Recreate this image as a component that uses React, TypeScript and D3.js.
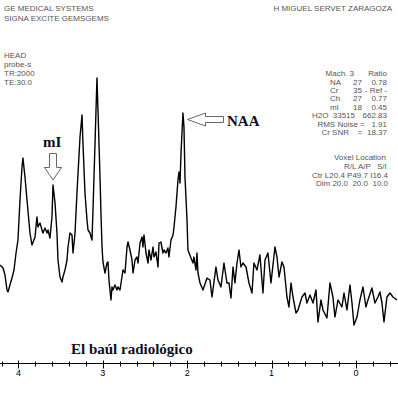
import React from 'react';
import * as d3 from 'd3';

// chemical shift (ppm) and signal intensity (arbitrary units)
const ppm = [
  4.218, 4.182, 4.159, 4.135, 4.123, 4.100, 4.076, 4.052, 4.028, 4.005, 3.981, 3.957, 3.946, 3.922, 3.898,
  3.863, 3.839, 3.803, 3.780, 3.768, 3.744, 3.720, 3.709, 3.685, 3.661, 3.649, 3.626, 3.602, 3.590, 3.566,
  3.543, 3.531, 3.507, 3.483, 3.472, 3.448, 3.424, 3.412, 3.389, 3.365, 3.353, 3.329, 3.306, 3.270, 3.246,
  3.235, 3.211, 3.187, 3.175, 3.152, 3.128, 3.116, 3.092, 3.069, 3.057, 3.033, 3.021, 3.009, 2.998, 2.974,
  2.950, 2.938, 2.927, 2.903, 2.891, 2.879, 2.856, 2.832, 2.820, 2.796, 2.773, 2.761, 2.737, 2.713, 2.701,
  2.678, 2.654, 2.642, 2.618, 2.595, 2.583, 2.559, 2.535, 2.524, 2.512, 2.488, 2.464, 2.453, 2.429, 2.405,
  2.393, 2.370, 2.346, 2.334, 2.311, 2.287, 2.275, 2.251, 2.228, 2.216, 2.192, 2.168, 2.156, 2.133, 2.109,
  2.097, 2.085, 2.073, 2.050, 2.038, 2.026, 2.002, 1.991, 1.955, 1.931, 1.920, 1.896, 1.884, 1.872, 1.848,
  1.813, 1.765, 1.730, 1.706, 1.659, 1.635, 1.600, 1.564, 1.529, 1.505, 1.481, 1.457, 1.434, 1.410, 1.386,
  1.363, 1.339, 1.303, 1.268, 1.232, 1.209, 1.173, 1.138, 1.102, 1.078, 1.043, 1.007, 0.960, 0.936, 0.912,
  0.877, 0.853, 0.818, 0.794, 0.770, 0.746, 0.711, 0.687, 0.640, 0.604, 0.581, 0.545, 0.509, 0.474, 0.450,
  0.415, 0.391, 0.344, 0.308, 0.273, 0.249, 0.213, 0.166, 0.142, 0.107, 0.071, 0.047, 0.024, -0.012, -0.047,
  -0.083, -0.118, -0.142, -0.189, -0.225, -0.260, -0.284, -0.308, -0.332, -0.367, -0.403, -0.438, -0.486,
];
const signal = [
  65, 62, 55, 40, 38, 45, 52, 60, 77, 90, 130, 163, 172, 153, 130,
  97, 85, 93, 113, 103, 107, 100, 97, 102, 97, 100, 92, 113, 145, 127,
  97, 70, 53, 48, 53, 60, 70, 83, 97, 95, 77, 97, 137, 193, 215,
  187, 137, 110, 100, 97, 90, 120, 187, 252, 220, 153, 115, 83, 68, 57,
  67, 68, 50, 30, 43, 40, 45, 40, 43, 40, 53, 60, 57, 83, 88,
  80, 70, 57, 70, 73, 67, 87, 93, 83, 95, 77, 67, 80, 70, 83,
  73, 78, 63, 87, 88, 77, 80, 77, 82, 73, 90, 95, 103, 123, 150,
  158, 147, 177, 217, 203, 153, 110, 80, 72, 67, 73, 60, 77, 57, 47,
  40, 52, 50, 33, 63, 50, 43, 67, 47, 47, 32, 63, 47, 67, 80,
  63, 67, 63, 47, 37, 67, 60, 75, 37, 70, 77, 47, 83, 73, 53,
  68, 63, 33, 23, 47, 33, 17, 20, 33, 37, 27, 35, 27, 40, 8,
  30, 20, 12, 47, 33, 13, 30, 23, 37, 20, 45, 27, 5, 13, 30,
  43, 23, 30, 42, 27, 33, 38, 27, 8, 33, 37, 33, 30,
];

const majorTicks = [4, 3, 2, 1, 0];
const minorTicks = d3.range(-4, 22).map(i => i / 5);

const headerLeft = ['GE MEDICAL SYSTEMS', 'SIGNA EXCITE GEMSGEMS'];
const headerRight = 'H MIGUEL SERVET ZARAGOZA';
const scanInfo = ['HEAD', 'probe-s', 'TR:2000', 'TE:30.0'];
const metabolites = ['NA', 'Cr', 'Ch', 'ml'];
const machValues = ['27', '35', '27', '18'];
const ratios = ['0.78', '- Ref -', '0.77', '0.45'];
const water = ['H2O', '33515', '662.83'];
const quality = ['RMS Noise =   1.91', 'Cr SNR    =  18.37'];
const voxelAxes = ['R/L', 'A/P', 'S/I'];
const voxelRows = ['Ctr L20.4 P49.7 I16.4', 'Dim 20.0  20.0  10.0'];

const W = 398;
const H = 400;
const small = { fontFamily: 'Liberation Sans, Arial, sans-serif', fontSize: 8, fill: '#555' };
const serifBold = { fontFamily: 'Liberation Serif, Times New Roman, serif', fontWeight: 700 };

export default function App() {
  const x = d3.scaleLinear().domain([4.218, -0.498]).range([0, W]);
  const y = d3.scaleLinear().domain([0, 260]).range([330, 70]);
  const points = ppm.map((p, i) => [p, signal[i]] as [number, number]);
  const line = d3.line<[number, number]>().x(d => x(d[0])).y(d => y(d[1]));
  const axisY = 363.5;

  // arrow shapes (mI points down, NAA points left)
  const down = 'M49.5,153.5 L56.5,153.5 L56.5,167.5 L61.5,167.5 L53,180 L44.5,167.5 L49.5,167.5 Z';
  const left = 'M187.5,119.5 L205.5,113 L205.5,116.5 L223.5,116.5 L223.5,122.5 L205.5,122.5 L205.5,126 Z';

  return (
    <svg width={W} height={H} style={{ position: 'absolute', left: 0, top: 0, background: '#fff' }}>
      <rect width={W} height={H} fill="#fff" />

      {headerLeft.map((t, i) => (
        <text key={t} x={4} y={11 + i * 9.5} {...small}>{t}</text>
      ))}
      <text x={392} y={11} textAnchor="end" {...small}>{headerRight}</text>
      {scanInfo.map((t, i) => (
        <text key={t} x={4} y={57.5 + i * 9.3} {...small}>{t}</text>
      ))}

      {/* metabolite table */}
      <g {...small}>
        <text x={354} y={76} textAnchor="end">Mach. 3</text>
        <text x={387} y={76} textAnchor="end">Ratio</text>
        {metabolites.map((m, i) => (
          <g key={m}>
            <text x={330} y={84.5 + i * 8.4}>{m}</text>
            <text x={362} y={84.5 + i * 8.4} textAnchor="end">{machValues[i]}</text>
            <text x={387} y={84.5 + i * 8.4} textAnchor="end">{ratios[i]}</text>
          </g>
        ))}
        <text x={312} y={118} >{water[0]}</text>
        <text x={355} y={118} textAnchor="end">{water[1]}</text>
        <text x={387} y={118} textAnchor="end">{water[2]}</text>
        {quality.map((t, i) => (
          <text key={t} x={387} y={126.5 + i * 8.5} textAnchor="end" style={{ whiteSpace: 'pre' }}>{t}</text>
        ))}
        <text x={386} y={160} textAnchor="end">Voxel Location</text>
        {voxelAxes.map((t, i) => (
          <text key={t} x={[344, 358, 377][i]} y={168.5}>{t}</text>
        ))}
        {voxelRows.map((t, i) => (
          <text key={t} x={388} y={177.5 + i * 8.5} textAnchor="end" style={{ whiteSpace: 'pre' }}>{t}</text>
        ))}
      </g>

      <path d={line(points) ?? ''} fill="none" stroke="#000" strokeWidth={1.4} strokeLinejoin="round" />

      {/* annotations */}
      <text x={43} y={147} fontSize={15} fill="#0d0d26" {...serifBold}>mI</text>
      <path d={down} fill="#fff" stroke="#666" strokeWidth={1} />
      <path d={left} fill="#fff" stroke="#666" strokeWidth={1} />
      <text x={227} y={126} fontSize={15} fill="#0d0d26" {...serifBold}>NAA</text>
      <text x={71} y={354} fontSize={15} fill="#0d0d26" {...serifBold}>El baúl radiológico</text>

      {/* ppm axis */}
      <line x1={0} x2={W} y1={axisY} y2={axisY} stroke="#000" strokeWidth={1} />
      {minorTicks.map(t => (
        <line key={t} x1={Math.round(x(t)) + 0.5} x2={Math.round(x(t)) + 0.5} y1={axisY - 2} y2={axisY + 3} stroke="#000" />
      ))}
      {majorTicks.map(t => (
        <g key={t}>
          <line x1={Math.round(x(t)) + 0.5} x2={Math.round(x(t)) + 0.5} y1={axisY - 3} y2={axisY + 5} stroke="#000" />
          <text x={x(t)} y={376} textAnchor="middle" fontFamily="Liberation Sans, Arial, sans-serif" fontSize={9} fill="#000">{t}</text>
        </g>
      ))}
    </svg>
  );
}
